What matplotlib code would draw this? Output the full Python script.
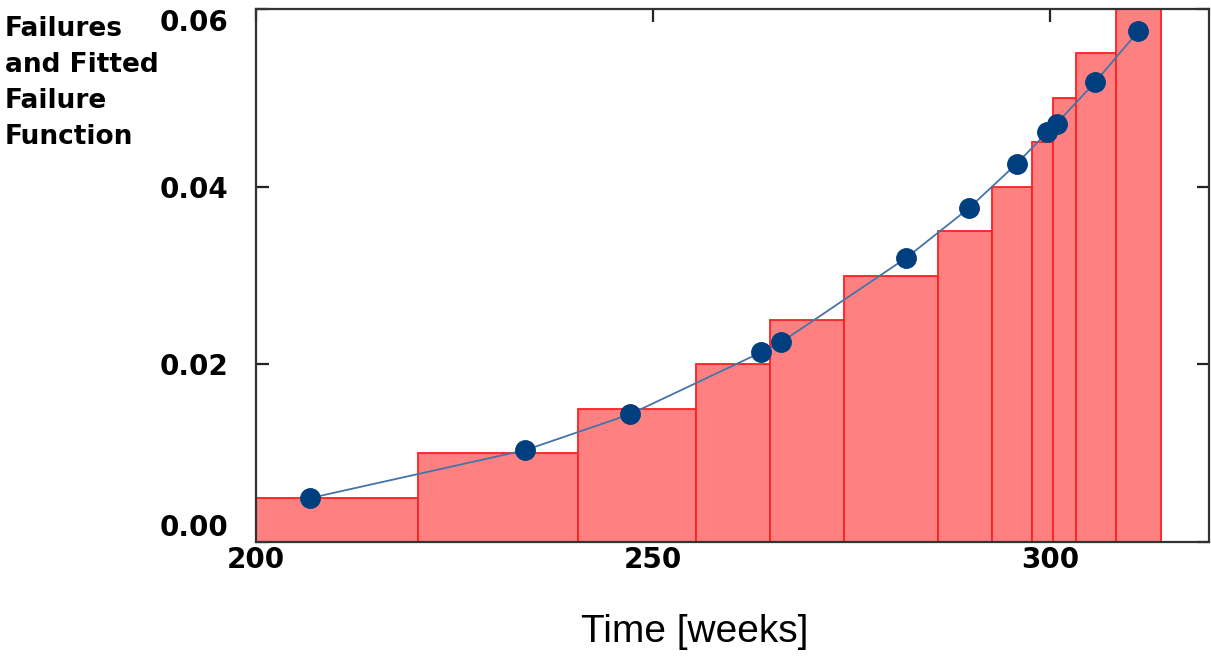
import matplotlib
matplotlib.use("Agg")
import matplotlib.pyplot as plt
import numpy as np

# Data
bar_edges = [200.0, 220.4, 240.6, 255.4, 264.7, 274.1, 285.9, 292.7, 297.7, 300.3, 303.3, 308.3, 313.9]
bar_heights = [0.005, 0.010, 0.015, 0.020, 0.025, 0.030, 0.035, 0.040, 0.045, 0.050, 0.055, 0.060]
fit_time = [206.8, 233.9, 247.1, 263.6, 266.1, 281.9, 289.8, 295.8, 299.6, 300.8, 305.7, 311.1]
fit_value = [0.00494, 0.01034, 0.01438, 0.02135, 0.02247, 0.0320, 0.0376, 0.0426, 0.0461, 0.0471, 0.0518, 0.0575]
x_ticks = [200, 250, 300]
y_ticks = [0.00, 0.02, 0.04, 0.06]
y_tick_labels = ["0.00", "0.02", "0.04", "0.06"]

fig = plt.figure(figsize=(12.11, 6.57), dpi=100)
ax = fig.add_axes([256/1211, 1-542/657, (1209-256)/1211, (542-9)/657])

lefts = np.array(bar_edges[:-1])
widths = np.diff(bar_edges)
ax.bar(lefts, bar_heights, width=widths, align='edge', color='#ff8080',
       edgecolor='#ff2020', linewidth=1.3, zorder=2)

ax.plot(fit_time, fit_value, '-', color='#4474a8', linewidth=1.3, zorder=3)
ax.plot(fit_time, fit_value, 'o', color='#003f7f', markersize=14, zorder=4)

ax.set_xlim(200, 320)
ax.set_ylim(0, 0.06)

for s in ax.spines.values():
    s.set_color('#333333')
    s.set_linewidth(1.6)

ax.set_xticks(x_ticks)
ax.set_xticklabels([str(v) for v in x_ticks])
ax.set_yticks(y_ticks)
ax.set_yticklabels(y_tick_labels)

ax.tick_params(axis='both', which='both', direction='in', length=9, width=1.6,
               color='#222222', labelsize=20)
ax.tick_params(axis='x', bottom=False, top=True, pad=3)
ax.tick_params(axis='y', left=True, right=True, pad=20)

for lab in ax.get_xticklabels() + ax.get_yticklabels():
    lab.set_fontweight('bold')
    lab.set_family('DejaVu Sans')

ylabs = ax.get_yticklabels()
ylabs[0].set_va('bottom')
ylabs[-1].set_va('top')

fig.text(0.004, 1-16/657, "Failures\nand Fitted\nFailure\nFunction", ha='left', va='top',
         fontsize=19, fontweight='bold', family='DejaVu Sans', linespacing=1.5)

fig.text(695/1211, 1-632/657, "Time [weeks]", ha='center', va='center',
         fontsize=28, family='Liberation Sans')

fig.savefig("out.png", dpi=100)
